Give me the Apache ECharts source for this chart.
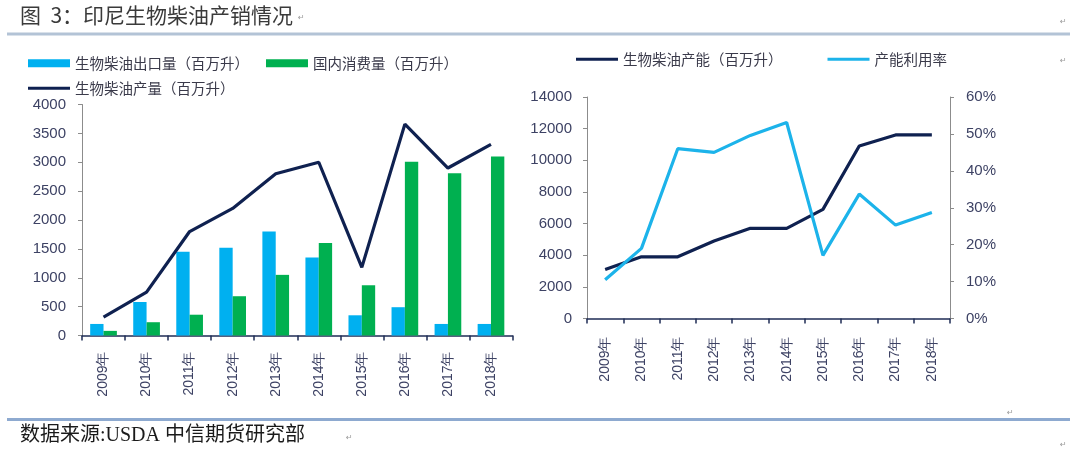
<!DOCTYPE html>
<html><head><meta charset="utf-8">
<script src="https://cdn.jsdelivr.net/npm/echarts@6/dist/echarts.min.js"></script>
<style>html,body{margin:0;padding:0;background:#fff}#c{width:1080px;height:455px}</style>
</head><body><div id="c"></div>
<script>
// ---- data ----
const years = ['2009年','2010年','2011年','2012年','2013年','2014年','2015年','2016年','2017年','2018年'];
const exportVolume = [200, 580, 1450, 1520, 1800, 1350, 350, 490, 200, 200];      // 生物柴油出口量（百万升）
const domesticUse  = [80, 230, 360, 680, 1050, 1600, 870, 3010, 2810, 3100];       // 国内消费量（百万升）
const production   = [320, 750, 1800, 2200, 2800, 3000, 1180, 3660, 2900, 3310];   // 生物柴油产量（百万升）
const capacity     = [3100, 3900, 3900, 4900, 5700, 5700, 6900, 10900, 11600, 11600]; // 生物柴油产能（百万升）
const utilization  = [10.5, 19.0, 46.0, 45.0, 49.6, 53.1, 17.1, 33.7, 25.3, 28.7];  // 产能利用率 (%)
const leftAxisTicks  = {min: 0, max: 4000, interval: 500};
const capAxisTicks   = {min: 0, max: 14000, interval: 2000};
const rateAxisTicks  = {min: 0, max: 60, interval: 10};

const NAVY = '#0f2150', BLUE = '#00b0f0', GREEN = '#00b050', LBLUE = '#1cb3ea';
const LBL = '#3d4264', NUMF = 'Liberation Sans, Arial, sans-serif', CJK = 'Noto Sans CJK SC, sans-serif';

const chart = echarts.init(document.getElementById('c'), null, {renderer: 'canvas'});
const plain = v => String(v);

function yAx(grid, t, margin, fmt, extra) {
  return Object.assign({
    type: 'value', gridIndex: grid, min: t.min, max: t.max, interval: t.interval,
    axisLine: {show: true, lineStyle: {color: '#8c8c8c', width: 1}},
    axisTick: {show: true, inside: false, length: 4, lineStyle: {color: '#8c8c8c'}},
    splitLine: {show: false},
    axisLabel: {color: LBL, fontSize: 15, fontFamily: NUMF, margin: margin, formatter: fmt}
  }, extra || {});
}
function xAx(grid, margin) {
  return {
    type: 'category', gridIndex: grid, data: years, boundaryGap: true,
    axisLine: {lineStyle: {color: '#1f2d55', width: 1.5}},
    axisTick: {show: true, length: 5, lineStyle: {color: '#1f2d55', width: 1.5}},
    axisLabel: {rotate: 90, color: LBL, fontSize: 14, fontFamily: NUMF, margin: margin, interval: 0}
  };
}

const option = {
  animation: false,
  backgroundColor: '#ffffff',
  grid: [
    {left: 82, top: 104.5, width: 430.5, height: 231},
    {left: 587, top: 97, width: 363, height: 221.5}
  ],
  xAxis: [xAx(0, 16), xAx(1, 18)],
  yAxis: [
    yAx(0, leftAxisTicks, 16, plain),
    yAx(1, capAxisTicks, 15, plain),
    yAx(1, rateAxisTicks, 16, v => v + '%', {position: 'right'})
  ],
  legend: [
    {data: ['生物柴油出口量（百万升）', '国内消费量（百万升）'], left: 28, top: 56, padding: 0,
     icon: 'rect', itemWidth: 42, itemHeight: 8, itemGap: 17,
     textStyle: {color: '#3a3a4a', fontSize: 14.5, fontFamily: CJK}},
    {data: ['生物柴油产量（百万升）'], left: 28, top: 81, padding: 0,
     icon: 'rect', itemWidth: 42, itemHeight: 3,
     textStyle: {color: '#3a3a4a', fontSize: 14.5, fontFamily: CJK}},
    {data: ['生物柴油产能（百万升）', '产能利用率'], left: 576, top: 52, padding: 0,
     icon: 'rect', itemWidth: 42, itemHeight: 3, itemGap: 45,
     textStyle: {color: '#3a3a4a', fontSize: 14.5, fontFamily: CJK}}
  ],
  series: [
    {name: '生物柴油出口量（百万升）', type: 'bar', xAxisIndex: 0, yAxisIndex: 0, data: exportVolume,
     itemStyle: {color: BLUE}, barGap: '0%', barCategoryGap: '38%'},
    {name: '国内消费量（百万升）', type: 'bar', xAxisIndex: 0, yAxisIndex: 0, data: domesticUse,
     itemStyle: {color: GREEN}, barGap: '0%', barCategoryGap: '38%'},
    {name: '生物柴油产量（百万升）', type: 'line', xAxisIndex: 0, yAxisIndex: 0, data: production,
     showSymbol: false, symbol: 'none', lineStyle: {color: NAVY, width: 3.2}, itemStyle: {color: NAVY}, z: 5},
    {name: '生物柴油产能（百万升）', type: 'line', xAxisIndex: 1, yAxisIndex: 1, data: capacity,
     showSymbol: false, symbol: 'none', lineStyle: {color: NAVY, width: 3.2}, itemStyle: {color: NAVY}},
    {name: '产能利用率', type: 'line', xAxisIndex: 1, yAxisIndex: 2, data: utilization,
     showSymbol: false, symbol: 'none', lineStyle: {color: LBLUE, width: 3.2}, itemStyle: {color: LBLUE}}
  ],
  graphic: [
    {type: 'text', left: 20, top: 5, style: {text: '图  3：印尼生物柴油产销情况', fill: '#3a3a3a', font: '21px ' + CJK}},
    {type: 'rect', shape: {x: 7, y: 32.5, width: 1063, height: 3}, style: {fill: '#b3c3d6'}},
    {type: 'rect', shape: {x: 7, y: 418, width: 1063, height: 3}, style: {fill: '#8eaad0'}},
    {type: 'text', left: 20, top: 426, style: {text: '数据来源:USDA 中信期货研究部', fill: '#1a1a1a', font: '20px Liberation Serif, Noto Sans CJK SC, serif'}},
    {type: 'text', left: 298, top: 14, style: {text: '↵', fill: '#9a9a9a', font: '8px DejaVu Sans'}},
    {type: 'text', left: 1060, top: 18, style: {text: '↵', fill: '#9a9a9a', font: '8px DejaVu Sans'}},
    {type: 'text', left: 1060, top: 57, style: {text: '↵', fill: '#9a9a9a', font: '8px DejaVu Sans'}},
    {type: 'text', left: 1007, top: 409, style: {text: '↵', fill: '#9a9a9a', font: '8px DejaVu Sans'}},
    {type: 'text', left: 346, top: 434, style: {text: '↵', fill: '#9a9a9a', font: '8px DejaVu Sans'}},
    {type: 'text', left: 1060, top: 441, style: {text: '↵', fill: '#9a9a9a', font: '8px DejaVu Sans'}}
  ]
};
chart.setOption(option);
</script>
</body></html>
